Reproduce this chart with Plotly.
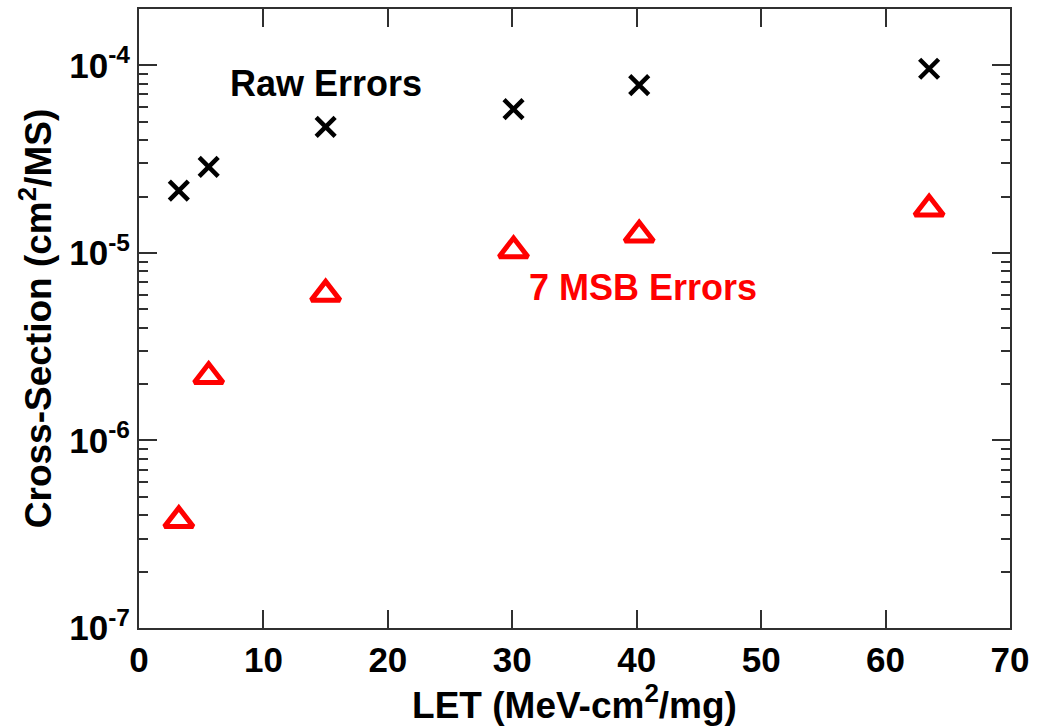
import plotly.graph_objects as go

# LET values (MeV-cm^2/mg) and measured cross-sections (cm^2/MS)
let_values = [3.2, 5.6, 15.0, 30.1, 40.2, 63.5]
raw_errors = [2.15e-5, 2.88e-5, 4.7e-5, 5.85e-5, 7.85e-5, 9.6e-5]
msb_errors = [3.75e-7, 2.2e-6, 6.05e-6, 1.03e-5, 1.25e-5, 1.72e-5]

x_ticks = [0, 10, 20, 30, 40, 50, 60, 70]
y_major = [1e-7, 1e-6, 1e-5, 1e-4]
y_major_text = ["10<sup>-7</sup>", "10<sup>-6</sup>", "10<sup>-5</sup>", "10<sup>-4</sup>"]
y_minor = [m * 10.0 ** e for e in (-7, -6, -5) for m in range(2, 10)] + [2e-4]

FONT = "Liberation Sans, Arial, Helvetica, sans-serif"
AXIS_COLOR = "#303030"


def bold(size, color="black"):
    return dict(family=FONT, size=size, color=color, weight="bold")


fig = go.Figure()
fig.add_trace(go.Scatter(
    x=let_values, y=raw_errors, mode="markers", name="Raw Errors",
    marker=dict(symbol="x-thin", size=19, color="black",
                line=dict(color="black", width=4.5)),
))
fig.add_trace(go.Scatter(
    x=let_values, y=msb_errors, mode="markers", name="7 MSB Errors",
    marker=dict(symbol="triangle-up-open", size=25, color="#ff0000",
                line=dict(color="#ff0000", width=5)),
))

fig.add_annotation(x=15, y=-4.094, xref="x", yref="y", text="Raw Errors",
                   showarrow=False, font=bold(36),
                   xanchor="center", yanchor="middle")
fig.add_annotation(x=40.5, y=-5.183, xref="x", yref="y", text="7 MSB Errors",
                   showarrow=False, font=bold(36, "#ff0000"),
                   xanchor="center", yanchor="middle")

fig.update_layout(
    width=1037, height=727,
    margin=dict(l=139, r=27, t=7, b=99),
    paper_bgcolor="white", plot_bgcolor="white",
    showlegend=False,
    font=dict(family=FONT, color="black"),
)

fig.update_xaxes(
    range=[0, 70], tickmode="array", tickvals=x_ticks,
    ticktext=[str(v) for v in x_ticks],
    ticks="inside", ticklen=18, tickwidth=2, tickcolor=AXIS_COLOR,
    showline=True, linecolor=AXIS_COLOR, linewidth=2, mirror="ticks",
    showgrid=False, zeroline=False,
    tickfont=bold(35),
    title=dict(text="LET (MeV-cm<sup>2</sup>/mg)", font=bold(37), standoff=4),
)
fig.update_yaxes(
    type="log", range=[-7, -3.699],
    tickmode="array", tickvals=y_major, ticktext=y_major_text,
    ticks="inside", ticklen=18, tickwidth=2, tickcolor=AXIS_COLOR,
    minor=dict(tickmode="array", tickvals=y_minor, ticks="inside",
               ticklen=9, tickwidth=2, tickcolor=AXIS_COLOR),
    showline=True, linecolor=AXIS_COLOR, linewidth=2, mirror="ticks",
    showgrid=False, zeroline=False,
    tickfont=bold(35),
    title=dict(text="Cross-Section (cm<sup>2</sup>/MS)", font=bold(37), standoff=6),
)

fig.write_html("out.html")
